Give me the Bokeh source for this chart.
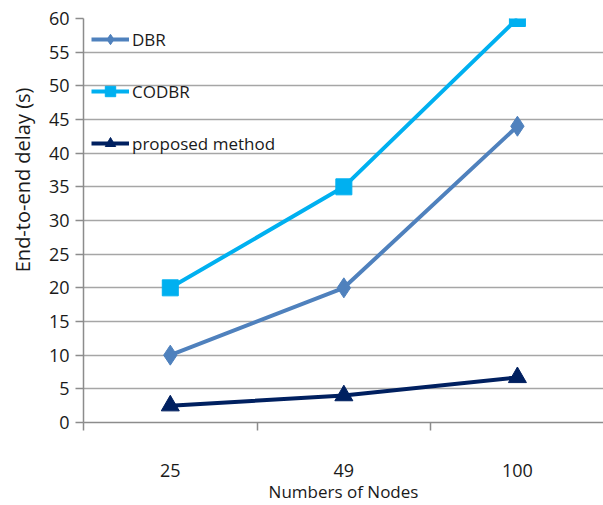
from bokeh.plotting import figure
from bokeh.models import Range1d, FixedTicker, Legend, LegendItem, Title
from bokeh.embed import file_html
from bokeh.resources import INLINE

categories = ["25", "49", "100"]
dbr = [10, 20, 44]
codbr = [20, 35, 60]
proposed = [2.5, 4, 6.7]
y_ticks = list(range(0, 61, 5))

xs = [i + 0.5 for i in range(len(categories))]

FONT = "Open Sans"
W, H = 603, 505

p = figure(width=W, height=H, output_backend="svg", toolbar_location=None,
           x_range=Range1d(0, 2.996), y_range=Range1d(0, 60))
p.min_border_left = 83
p.min_border_top = 18
p.min_border_right = 0
p.min_border_bottom = 83
p.outline_line_color = None
p.background_fill_color = "white"
p.border_fill_color = "white"

grid_col = "#a6a6a6"
axis_col = "#8c8c8c"

p.xgrid.grid_line_color = None
p.ygrid.grid_line_color = grid_col
p.ygrid.grid_line_width = 1.5
p.ygrid.ticker = FixedTicker(ticks=y_ticks)

# x axis
p.xaxis.ticker = FixedTicker(ticks=xs, minor_ticks=[0, 1, 2, 3])
p.xaxis.major_label_overrides = {x: c for x, c in zip(xs, categories)}
p.xaxis.major_tick_line_color = None
p.xaxis.major_tick_out = 0
p.xaxis.major_tick_in = 0
p.xaxis.minor_tick_line_color = axis_col
p.xaxis.minor_tick_line_width = 1.5
p.xaxis.minor_tick_out = 8
p.xaxis.minor_tick_in = 0
p.xaxis.axis_line_color = axis_col
p.xaxis.axis_line_width = 1.5
p.xaxis.major_label_standoff = 33
p.xaxis.major_label_text_font = FONT
p.xaxis.major_label_text_font_size = "18px"
p.xaxis.major_label_text_color = "#1a1a1a"
p.xaxis.axis_label = "Numbers of Nodes"
p.xaxis.axis_label_text_font = FONT
p.xaxis.axis_label_text_font_size = "17px"
p.xaxis.axis_label_text_font_style = "normal"
p.xaxis.axis_label_text_color = "#1a1a1a"
p.xaxis.axis_label_standoff = 0

# y axis
p.yaxis.ticker = FixedTicker(ticks=y_ticks)
p.yaxis.minor_tick_line_color = None
p.yaxis.major_tick_line_color = axis_col
p.yaxis.major_tick_line_width = 1.5
p.yaxis.major_tick_out = 8
p.yaxis.major_tick_in = 0
p.yaxis.axis_line_color = axis_col
p.yaxis.axis_line_width = 1.5
p.yaxis.major_label_standoff = 6
p.yaxis.major_label_text_font = FONT
p.yaxis.major_label_text_font_size = "18px"
p.yaxis.major_label_text_color = "#1a1a1a"

# y axis title, placed like the reference (upper part, not frame-centred)
ytitle = Title(text="End-to-end delay (s)", align="right", offset=69,
               vertical_align="top",
               text_font=FONT, text_font_size="20px", text_font_style="normal",
               text_color="#1a1a1a", standoff=16)
p.add_layout(ytitle, "left")

c_dbr = "#4f81bd"
c_codbr = "#00b0f0"
c_prop = "#002060"

l1 = p.line(xs, dbr, line_color=c_dbr, line_width=4)
m1 = p.scatter(xs, dbr, marker="diamond", size=20, fill_color=c_dbr, line_color=c_dbr)
l2 = p.line(xs, codbr, line_color=c_codbr, line_width=4)
m2 = p.scatter(xs, codbr, marker="square", size=16, fill_color=c_codbr, line_color=c_codbr)
l3 = p.line(xs, proposed, line_color=c_prop, line_width=4)
m3 = p.scatter(xs, proposed, marker="triangle", size=18, fill_color=c_prop, line_color=c_prop)

legend = Legend(items=[
    LegendItem(label="DBR", renderers=[l1, m1]),
    LegendItem(label="CODBR", renderers=[l2, m2]),
    LegendItem(label="proposed method", renderers=[l3, m3]),
], location="top_left")
legend.background_fill_alpha = 0
legend.border_line_color = None
legend.margin = 8
legend.padding = 7
legend.spacing = 26
legend.label_height = 26
legend.glyph_height = 26
legend.glyph_width = 38
legend.label_standoff = 3
legend.label_text_font = FONT
legend.label_text_font_size = "17px"
legend.label_text_color = "#1a1a1a"
p.add_layout(legend, "center")

open("out.html", "w").write(file_html(p, INLINE))
